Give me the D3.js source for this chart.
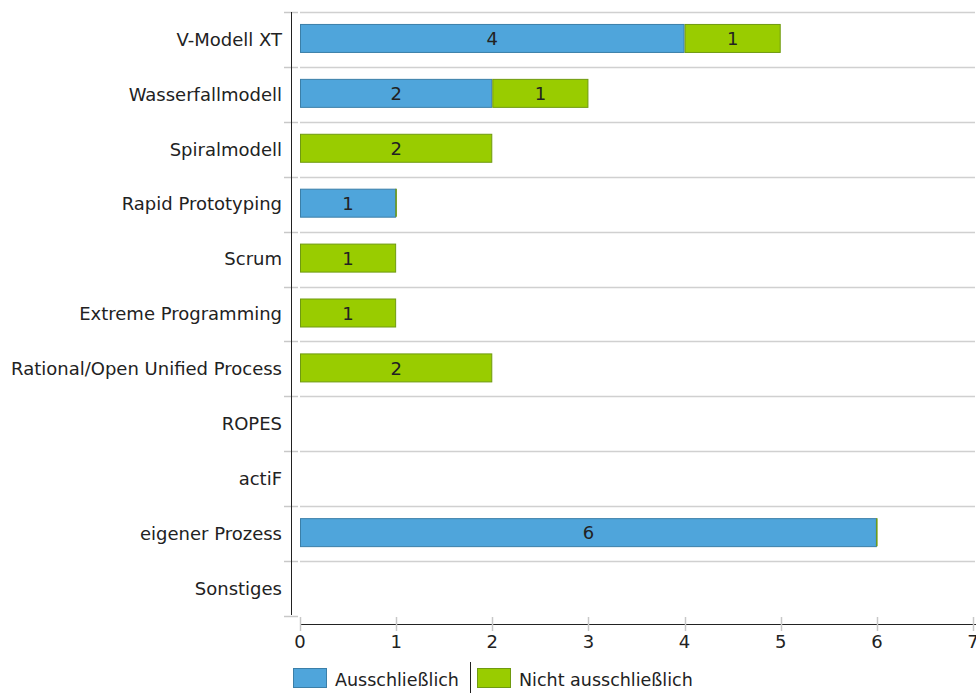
<!DOCTYPE html>
<html>
<head>
<meta charset="utf-8">
<script src="https://cdn.jsdelivr.net/npm/d3@7"></script>
<style>
  body { margin: 0; background: #fff; }
  svg text { font-family: "DejaVu Sans", Verdana, sans-serif; fill: #222; }
</style>
</head>
<body>
<div id="chart"></div>
<script>
// categories and values
const categories = [
  'V-Modell XT', 'Wasserfallmodell', 'Spiralmodell', 'Rapid Prototyping', 'Scrum',
  'Extreme Programming', 'Rational/Open Unified Process', 'ROPES', 'actiF',
  'eigener Prozess', 'Sonstiges'
];
const exclusive = [4, 2, 0, 1, 0, 0, 0, 0, 0, 6, 0];
const nonExclusive = [1, 1, 2, 0, 1, 1, 2, 0, 0, 0, 0];
const seriesNames = ['Ausschließlich', 'Nicht ausschließlich'];
const xTicks = [0, 1, 2, 3, 4, 5, 6, 7];

const width = 976, height = 693;
const fills = ['#4fa5db', '#99cc00'];
const strokes = ['#3b7fa8', '#6f9a10'];

const svg = d3.select('#chart').append('svg')
  .attr('width', width)
  .attr('height', height);

const x = d3.scaleLinear().domain([0, 7]).range([300, 973]);
const y = d3.scaleBand().domain(categories).range([12, 616]).paddingInner(0).paddingOuter(0);

// horizontal grid lines at top of each band
svg.append('g').selectAll('line')
  .data(categories)
  .enter().append('line')
  .attr('x1', 300).attr('x2', 975)
  .attr('y1', d => Math.round(y(d)) + 0.5)
  .attr('y2', d => Math.round(y(d)) + 0.5)
  .attr('stroke', '#d0d0d0')
  .attr('stroke-width', 1.5);

// y axis line and ticks
const yTickPos = categories.map(d => y(d)).concat([y.range()[1]]);
svg.append('g').selectAll('line')
  .data(yTickPos)
  .enter().append('line')
  .attr('x1', 284).attr('x2', 298)
  .attr('y1', d => Math.round(d) + 0.5)
  .attr('y2', d => Math.round(d) + 0.5)
  .attr('stroke', '#c8c8c8')
  .attr('stroke-width', 1.5);
svg.append('line')
  .attr('x1', 291.5).attr('x2', 291.5)
  .attr('y1', 12).attr('y2', 615)
  .attr('stroke', '#222');

// category labels
svg.append('g').selectAll('text')
  .data(categories)
  .enter().append('text')
  .attr('x', 282)
  .attr('y', d => y(d) + y.bandwidth() / 2)
  .attr('dy', '0.35em')
  .attr('text-anchor', 'end')
  .style('font-size', '18px')
  .text(d => d);

// stacked bars
const rows = categories.map((c, i) => ({ cat: c, vals: [exclusive[i], nonExclusive[i]] }));
const barH = 28;
rows.forEach(r => {
  const total = r.vals[0] + r.vals[1];
  if (total === 0) return;
  let acc = 0;
  r.vals.forEach((v, k) => {
    const x0 = x(acc), x1 = x(acc + v);
    const yy = y(r.cat) + y.bandwidth() / 2 - barH / 2 - 1.5;
    if (v === 0) {
      // zero segment shows only its edge
      if (acc > 0) {
        svg.append('line')
          .attr('x1', x0).attr('x2', x0)
          .attr('y1', yy).attr('y2', yy + barH)
          .attr('stroke', strokes[k]).attr('stroke-width', 1.5);
      }
      return;
    }
    svg.append('rect')
      .attr('x', x0 + 0.5).attr('y', yy + 0.5)
      .attr('width', x1 - x0 - 1).attr('height', barH)
      .attr('fill', fills[k])
      .attr('stroke', strokes[k])
      .attr('stroke-width', 1);
    svg.append('text')
      .attr('x', (x0 + x1) / 2)
      .attr('y', yy + barH / 2 + 1)
      .attr('dy', '0.35em')
      .attr('text-anchor', 'middle')
      .style('font-size', '18px')
      .text(v);
    acc += v;
  });
});

// x axis
svg.append('line')
  .attr('x1', 300).attr('x2', 976)
  .attr('y1', 624.5).attr('y2', 624.5)
  .attr('stroke', '#222');
svg.append('g').selectAll('line')
  .data(xTicks)
  .enter().append('line')
  .attr('x1', d => Math.round(x(d)) + 0.5)
  .attr('x2', d => Math.round(x(d)) + 0.5)
  .attr('y1', 617).attr('y2', 631)
  .attr('stroke', '#c8c8c8')
  .attr('stroke-width', 1.5);
svg.append('g').selectAll('text')
  .data(xTicks)
  .enter().append('text')
  .attr('x', d => x(d))
  .attr('y', 648)
  .attr('text-anchor', 'middle')
  .style('font-size', '18px')
  .text(d => d);

// legend
const legend = svg.append('g');
const legX = [293, 477];
seriesNames.forEach((name, k) => {
  legend.append('rect')
    .attr('x', legX[k] + 0.5).attr('y', 668.5)
    .attr('width', 33).attr('height', 19)
    .attr('fill', fills[k])
    .attr('stroke', strokes[k]);
  legend.append('text')
    .attr('x', legX[k] + 42)
    .attr('y', 686)
    .style('font-size', '17.5px')
    .text(name);
});
legend.append('line')
  .attr('x1', 470.5).attr('x2', 470.5)
  .attr('y1', 662).attr('y2', 693)
  .attr('stroke', '#222');
</script>
</body>
</html>
